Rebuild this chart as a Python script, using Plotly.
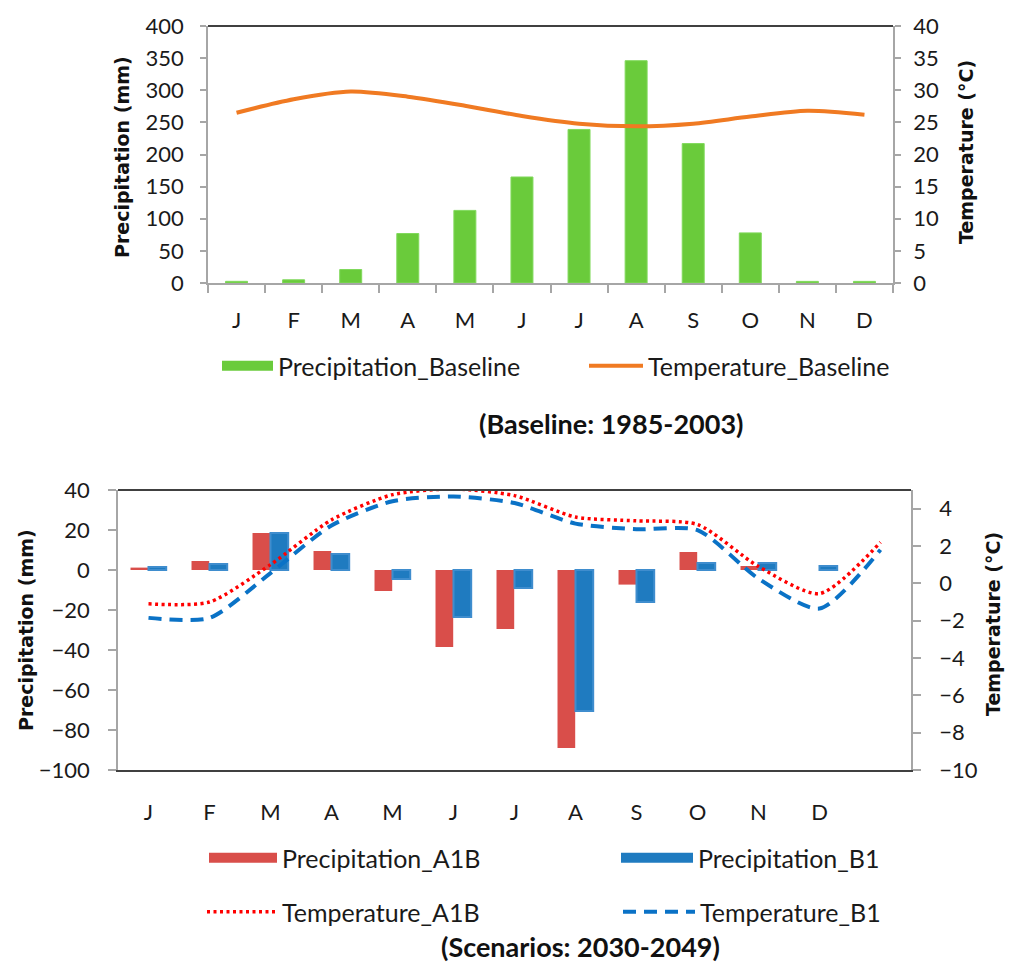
import plotly.graph_objects as go

W, H = 1009, 967

months = ["J", "F", "M", "A", "M", "J", "J", "A", "S", "O", "N", "D"]

# Baseline (1985-2003)
precip_baseline = [2.6, 5.0, 21, 77, 113, 165, 239, 346, 217, 78, 2.5, 2.5]
temp_baseline = [26.5, 28.6, 29.8, 29.0, 27.6, 26.0, 24.8, 24.4, 24.8, 25.9, 26.8, 26.2]

# Scenarios (2030-2049), changes
precip_a1b = [1.2, 4.5, 18.5, 9.5, -10.5, -38.5, -29.5, -89, -7.3, 9.0, 2.0, 0.0]
precip_b1 = [1.5, 3.0, 18.5, 8.0, -4.5, -23.5, -9.0, -70.5, -16.0, 3.5, 3.5, 2.0]
# temperature changes have a 13th point after December
temp_a1b = [-1.1, -1.0, 1.0, 3.4, 4.75, 5.05, 4.7, 3.55, 3.35, 3.15, 0.9, -0.55, 2.2]
temp_b1 = [-1.85, -1.85, 0.55, 3.1, 4.4, 4.65, 4.3, 3.2, 2.9, 2.85, 0.25, -1.35, 1.8]

FONT = "Lato, 'Liberation Sans', sans-serif"
TFONT = "'DejaVu Sans', 'Open Sans', sans-serif"
GREY = "#A6A6A6"
DARK = "#404040"

xs12 = list(range(12))
xs13 = list(range(13))

fig = go.Figure()

# ---------- top chart ----------
fig.add_trace(go.Bar(x=xs12, y=precip_baseline, xaxis="x", yaxis="y",
                     marker=dict(color="#6ACB3B", line=dict(color="#80D95C", width=1)),
                     width=0.385, offset=-0.1925, showlegend=False, name="Precipitation_Baseline"))
fig.add_trace(go.Scatter(x=xs12, y=temp_baseline, xaxis="x", yaxis="y2", mode="lines",
                         line=dict(color="#F07A22", width=4, shape="spline", smoothing=0.8),
                         name="Temperature_Baseline", legend="legend2"))
fig.add_trace(go.Scatter(x=[None], y=[None], xaxis="x", yaxis="y", mode="lines",
                         line=dict(color="#6ACB3B", width=13),
                         name="Precipitation_Baseline", legend="legend"))

# ---------- bottom chart ----------
fig.add_trace(go.Bar(x=xs12, y=precip_a1b, xaxis="x3", yaxis="y3",
                     marker=dict(color="#D94E4A", line=dict(width=0)),
                     width=0.29, offset=-0.295, showlegend=False, name="Precipitation_A1B"))
fig.add_trace(go.Bar(x=xs12, y=precip_b1, xaxis="x3", yaxis="y3",
                     marker=dict(color="#1F7BC0", line=dict(color="#3F8DCE", width=2)),
                     width=0.29, offset=0.0, showlegend=False, name="Precipitation_B1"))
fig.add_trace(go.Scatter(x=xs13, y=temp_a1b, xaxis="x3", yaxis="y4", mode="lines",
                         line=dict(color="#FF0000", width=3.5, dash="3px,3.5px", shape="spline", smoothing=0.7),
                         name="Temperature_A1B", legend="legend5"))
fig.add_trace(go.Scatter(x=xs13, y=temp_b1, xaxis="x3", yaxis="y4", mode="lines",
                         line=dict(color="#0A72C6", width=4, dash="13px,8px", shape="spline", smoothing=0.7),
                         name="Temperature_B1", legend="legend6"))
fig.add_trace(go.Scatter(x=[None], y=[None], xaxis="x3", yaxis="y3", mode="lines",
                         line=dict(color="#D94E4A", width=13),
                         name="Precipitation_A1B", legend="legend3"))
fig.add_trace(go.Scatter(x=[None], y=[None], xaxis="x3", yaxis="y3", mode="lines",
                         line=dict(color="#1F7BC0", width=13),
                         name="Precipitation_B1", legend="legend4"))

# domains (pixel based)
def fx(px):
    return px / W

def fy(py):
    return 1 - py / H

top_x = [fx(208), fx(893)]
top_y = [fy(283), fy(26)]
bot_x = [fx(118), fx(911)]
bot_y = [fy(770), fy(490)]

ymin3, ymax3 = -100, 40
zero_pos = bot_y[0] + (0 - ymin3) / (ymax3 - ymin3) * (bot_y[1] - bot_y[0])

tickfont = dict(family=FONT, size=22, color="#1a1a1a")

fig.update_layout(
    width=W, height=H, margin=dict(l=0, r=0, t=0, b=0, autoexpand=False),
    paper_bgcolor="white", plot_bgcolor="white",
    barmode="overlay",
    xaxis=dict(domain=top_x, anchor="y", range=[-0.5, 11.5], tickvals=xs12, ticktext=months,
               ticks="outside", ticklen=17, tickcolor="rgba(0,0,0,0)", tickfont=tickfont,
               showline=True, linecolor=GREY, linewidth=1.5, showgrid=False, zeroline=False,
               minor=dict(tickvals=[i - 0.5 for i in range(13)], ticks="outside", ticklen=8,
                          tickcolor=GREY, tickwidth=1.5, showgrid=False)),
    yaxis=dict(domain=top_y, anchor="x", range=[0, 400], dtick=50, ticks="outside", ticklen=6,
               tickcolor=GREY, tickwidth=1.5, showline=True, linecolor=GREY, linewidth=1.5,
               showgrid=False, zeroline=False, tickfont=tickfont, ticklabelstandoff=12),
    yaxis2=dict(overlaying="y", side="right", anchor="x", range=[0, 40], dtick=5, ticks="outside",
                ticklen=6, tickcolor=GREY, tickwidth=1.5, showline=True, linecolor=GREY, linewidth=1.5,
                showgrid=False, zeroline=False, tickfont=tickfont, ticklabelstandoff=8),
    xaxis3=dict(domain=bot_x, anchor="y3", range=[-0.5, 12.5], tickvals=xs12, ticktext=months,
                ticks="outside", ticklen=22, tickcolor="rgba(0,0,0,0)", tickfont=tickfont,
                showline=True, linecolor=DARK, linewidth=2, showgrid=False, zeroline=False),
    xaxis4=dict(overlaying="x3", anchor="free", position=zero_pos, range=[-0.5, 12.5],
                tickvals=[i - 0.5 for i in range(14)], showticklabels=False, ticks="outside",
                ticklen=9, tickcolor=GREY, tickwidth=1.5, showline=True, linecolor=GREY,
                linewidth=1.5, showgrid=False, zeroline=False),
    yaxis3=dict(domain=bot_y, anchor="x3", range=[ymin3, ymax3], dtick=20, ticks="outside", ticklen=8,
                tickcolor=GREY, tickwidth=1.5, showline=True, linecolor=GREY, linewidth=1.5,
                showgrid=False, zeroline=False, tickfont=tickfont, ticklabelstandoff=14),
    yaxis4=dict(overlaying="y3", side="right", anchor="x3", range=[-10, 5],
                tickvals=[-10, -8, -6, -4, -2, 0, 2, 4], ticks="outside", ticklen=8,
                tickcolor=GREY, tickwidth=1.5, showline=True, linecolor=GREY, linewidth=1.5,
                showgrid=False, zeroline=False, tickfont=tickfont, ticklabelstandoff=14),
)

# frame lines at the top of the plot areas
fig.add_shape(type="line", xref="x domain", yref="y domain", x0=0, x1=1, y0=1, y1=1,
              line=dict(color=DARK, width=2))
fig.add_shape(type="line", xref="x3 domain", yref="y3 domain", x0=0, x1=1, y0=1, y1=1,
              line=dict(color=DARK, width=2))

legfont = dict(family=FONT, size=25, color="#1a1a1a")

def leg(xpx, ypx, iw):
    return dict(x=fx(xpx), y=fy(ypx), xanchor="left", yanchor="middle", orientation="h",
                font=legfont, itemwidth=iw, bgcolor="rgba(0,0,0,0)", borderwidth=0)

fig.update_layout(
    legend=leg(217, 366, 51),
    legend2=leg(584, 366, 54),
    legend3=leg(204, 858, 68),
    legend4=leg(616, 858, 72),
    legend5=leg(202, 912, 70),
    legend6=leg(618, 912, 72),
)

titlefont = dict(family=TFONT, size=19, color="#111111")
ann = [
    dict(text="<b>Precipitation (mm)</b>", x=fx(122), y=fy(157), textangle=-90),
    dict(text="<b>Temperature (°C)</b>", x=fx(966), y=fy(152), textangle=-90),
    dict(text="<b>Precipitation (mm)</b>", x=fx(26), y=fy(630), textangle=-90),
    dict(text="<b>Temperature (°C)</b>", x=fx(993), y=fy(624), textangle=-90),
]
for a in ann:
    fig.add_annotation(xref="paper", yref="paper", showarrow=False, xanchor="center",
                       yanchor="middle", font=titlefont, **a)

capfont = dict(family=FONT, size=27, color="#111111")
fig.add_annotation(text="<b>(Baseline: 1985-2003)</b>", xref="paper", yref="paper",
                   x=fx(611), y=fy(423), showarrow=False, xanchor="center", yanchor="middle",
                   font=capfont)
fig.add_annotation(text="<b>(Scenarios: 2030-2049)</b>", xref="paper", yref="paper",
                   x=fx(580), y=fy(965), showarrow=False, xanchor="center", yanchor="bottom",
                   font=capfont)

fig.write_html("out.html")
